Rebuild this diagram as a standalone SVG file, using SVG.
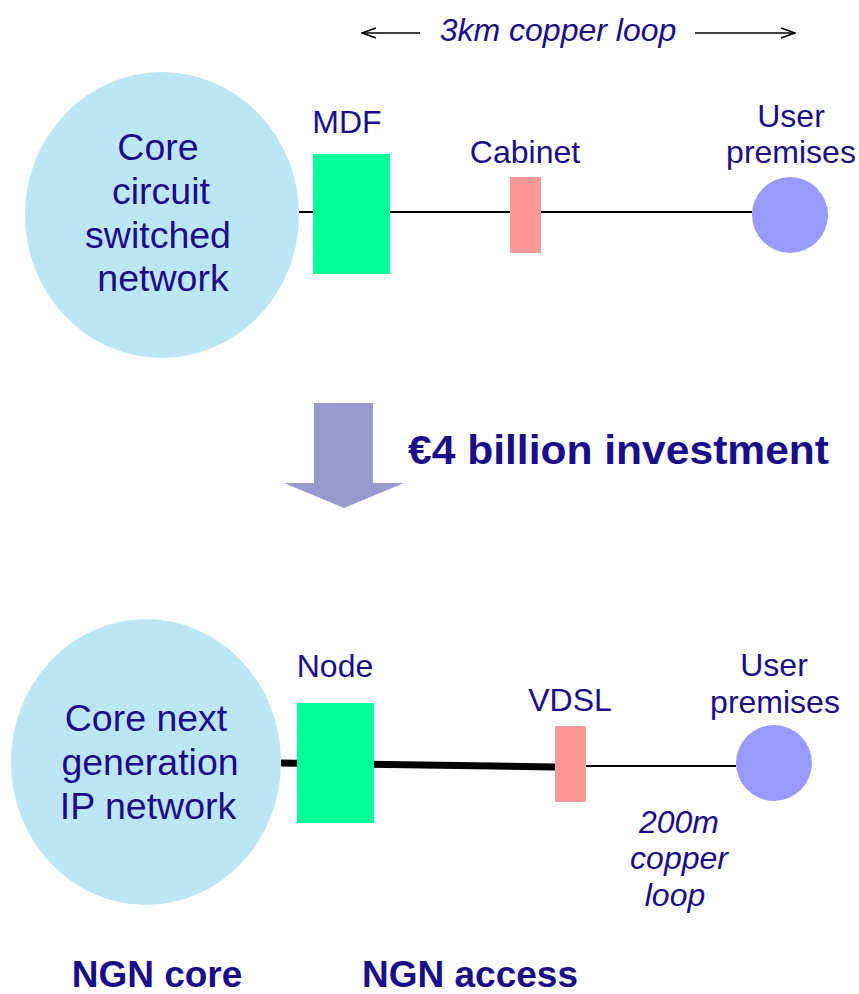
<svg xmlns="http://www.w3.org/2000/svg" width="859" height="994" viewBox="0 0 859 994">
  <style>
    .lbl { font-family: "Liberation Sans", Arial, sans-serif; fill: #1B0C8A; text-anchor: middle; }
    .big { font-size: 37.5px; }
    .mid { font-size: 32px; }
    .cap { font-size: 37px; }
    .ital { font-style: italic; }
    .bold { font-weight: bold; }
    .core { fill: #BDE6F5; }
    .box { fill: #00FF99; }
    .cab { fill: #FF9999; }
    .user { fill: #9999FF; }
    .wire { stroke: #000; stroke-width: 2; fill: none; }
  </style>
  <defs>
    <marker id="open" markerWidth="16" markerHeight="12" refX="15" refY="6" orient="auto" markerUnits="userSpaceOnUse">
      <path d="M1,1 L15,6 L1,11" fill="none" stroke="#000" stroke-width="1.5"/>
    </marker>
  </defs>

  <!-- connectors -->
  <g id="connectors">
    <line class="wire" x1="299" y1="212" x2="752" y2="212"/>
    <path d="M281,763 L555,767" stroke="#000" stroke-width="7" fill="none"/>
    <line class="wire" x1="586" y1="766" x2="736" y2="766"/>
    <line x1="420" y1="33" x2="362" y2="33" stroke="#000" stroke-width="1.5" marker-end="url(#open)"/>
    <line x1="695" y1="33" x2="795" y2="33" stroke="#000" stroke-width="1.5" marker-end="url(#open)"/>
  </g>

  <!-- legacy network -->
  <g id="core-circuit">
    <ellipse class="core" cx="162" cy="215" rx="137" ry="143"/>
    <text class="lbl big" x="158" y="160">Core</text>
    <text class="lbl big" x="161" y="204">circuit</text>
    <text class="lbl big" x="158" y="248">switched</text>
    <text class="lbl big" x="163" y="291">network</text>
  </g>
  <g id="mdf">
    <rect class="box" x="313" y="154" width="77" height="120"/>
    <text class="lbl mid" x="347" y="133">MDF</text>
  </g>
  <g id="cabinet">
    <rect class="cab" x="510" y="177" width="31" height="76"/>
    <text class="lbl mid" x="525" y="163">Cabinet</text>
  </g>
  <g id="user-top">
    <circle class="user" cx="790" cy="215" r="38"/>
    <text class="lbl mid" x="791" y="127">User</text>
    <text class="lbl mid" x="791" y="163">premises</text>
  </g>
  <g id="span-top">
    <text class="lbl mid ital" x="558" y="41">3km copper loop</text>
  </g>

  <!-- investment step -->
  <g id="investment">
    <polygon fill="#9999CC" points="314,403 373,403 373,483 404,483 344,508 284,483 314,483"/>
    <text class="lbl bold" x="408" y="464" style="font-size:41px;text-anchor:start" textLength="421" lengthAdjust="spacingAndGlyphs">€4 billion investment</text>
  </g>

  <!-- next generation network -->
  <g id="core-ngn">
    <ellipse class="core" cx="146" cy="762" rx="135" ry="143"/>
    <text class="lbl big" x="146" y="731">Core next</text>
    <text class="lbl big" x="150" y="775">generation</text>
    <text class="lbl big" x="148" y="819">IP network</text>
  </g>
  <g id="node">
    <rect class="box" x="297" y="703" width="77" height="120"/>
    <text class="lbl mid" x="335" y="677">Node</text>
  </g>
  <g id="vdsl">
    <rect class="cab" x="555" y="726" width="31" height="76"/>
    <text class="lbl mid" x="570" y="711">VDSL</text>
  </g>
  <g id="user-bottom">
    <circle class="user" cx="774" cy="763" r="38"/>
    <text class="lbl mid" x="774" y="676">User</text>
    <text class="lbl mid" x="775" y="713">premises</text>
  </g>
  <g id="span-bottom">
    <text class="lbl mid ital" x="679" y="833">200m</text>
    <text class="lbl mid ital" x="679" y="869">copper</text>
    <text class="lbl mid ital" x="675" y="906">loop</text>
  </g>

  <!-- section captions -->
  <g id="captions">
    <text class="lbl cap bold" x="157" y="987">NGN core</text>
    <text class="lbl cap bold" x="470" y="987">NGN access</text>
  </g>
</svg>
